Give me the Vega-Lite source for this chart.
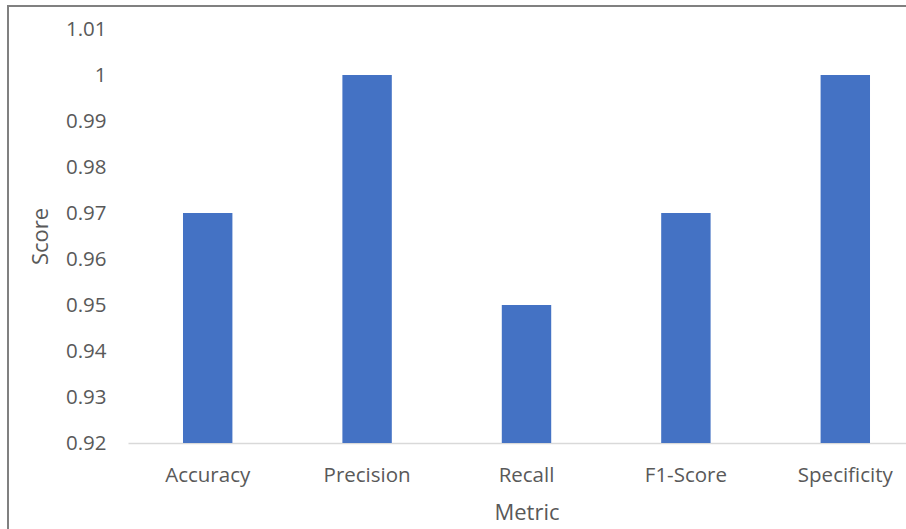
{
  "$schema": "https://vega.github.io/schema/vega-lite/v6.json",
  "autosize": "none",
  "padding": {"left": 8, "top": 6, "right": 0, "bottom": 0},
  "width": 900,
  "height": 525,
  "background": "#ffffff",
  "data": {
    "values": [
      {"Metric": "Accuracy", "Score": 0.97},
      {"Metric": "Precision", "Score": 1.0},
      {"Metric": "Recall", "Score": 0.95},
      {"Metric": "F1-Score", "Score": 0.97},
      {"Metric": "Specificity", "Score": 1.0}
    ]
  },
  "mark": {"type": "bar", "color": "#4472C4"},
  "encoding": {
    "x": {
      "field": "Metric",
      "type": "nominal",
      "sort": null,
      "title": "Metric",
      "scale": {"range": [120, 917], "paddingInner": 0.69, "paddingOuter": 0.345},
      "axis": {
        "offset": -88,
        "labelAngle": 0,
        "ticks": false,
        "domainColor": "#d9d9d9",
        "domainWidth": 1.5,
        "labelPadding": 22,
        "titleY": 76,
        "titleBaseline": "alphabetic"
      }
    },
    "y": {
      "field": "Score",
      "type": "quantitative",
      "title": "Score",
      "scale": {"domain": [0.92, 1.01], "range": [437, 23], "zero": false, "nice": false},
      "axis": {
        "offset": -120,
        "values": [0.92, 0.93, 0.94, 0.95, 0.96, 0.97, 0.98, 0.99, 1.0, 1.01],
        "format": ".2~f",
        "domain": false,
        "ticks": false,
        "grid": false,
        "labelPadding": 22,
        "titleX": -88,
        "titleY": 230,
        "titleAngle": -90,
        "titleAlign": "center",
        "titleBaseline": "middle"
      }
    },
    "y2": {"datum": 0.92}
  },
  "config": {
    "view": {"stroke": "#808080", "strokeWidth": 2},
    "axis": {
      "labelFont": "Open Sans",
      "labelFontSize": 20.5,
      "labelColor": "#595959",
      "titleFont": "Open Sans",
      "titleFontSize": 22,
      "titleFontWeight": "normal",
      "titleColor": "#595959"
    }
  }
}
